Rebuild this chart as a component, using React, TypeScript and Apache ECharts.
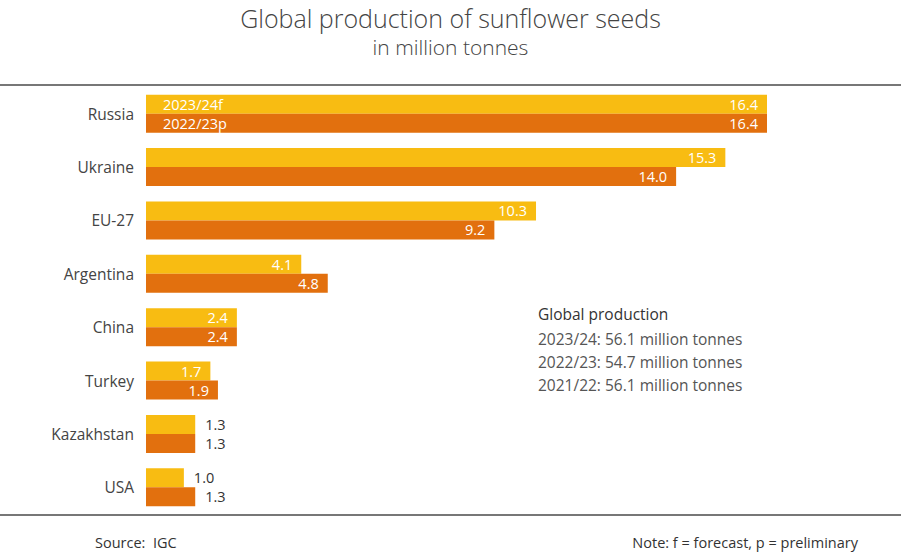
import React, { useEffect, useRef } from "react";
import * as echarts from "echarts";

const categories = ["Russia", "Ukraine", "EU-27", "Argentina", "China", "Turkey", "Kazakhstan", "USA"];
const seriesNames = ["2023/24f", "2022/23p"];
const values2324 = [16.4, 15.3, 10.3, 4.1, 2.4, 1.7, 1.3, 1.0];
const values2223 = [16.4, 14.0, 9.2, 4.8, 2.4, 1.9, 1.3, 1.3];
const globalLines = [
  "2023/24: 56.1 million tonnes",
  "2022/23: 54.7 million tonnes",
  "2021/22: 56.1 million tonnes",
];
const colors = ["#F8BC12", "#E2700E"];
const insideThreshold = 1.5;

const FONT = "'Open Sans', 'Noto Sans', sans-serif";

function makeData(vals: number[]) {
  return vals.map((v) => ({
    value: v,
    label:
      v >= insideThreshold
        ? { position: "insideRight", color: "#ffffff", distance: 9 }
        : { position: "right", color: "#333333", distance: 10 },
  }));
}

export default function App() {
  const ref = useRef<HTMLDivElement>(null);
  useEffect(() => {
    if (!ref.current) return;
    const chart = echarts.init(ref.current, undefined, { renderer: "svg" });
    const gridLeft = 146;
    const option: any = {
      animation: false,
      backgroundColor: "#ffffff",
      textStyle: { fontFamily: FONT },
      grid: { left: gridLeft, top: 87, height: 427, width: 621 },
      xAxis: { type: "value", min: 0, max: 16.4, show: false },
      yAxis: {
        type: "category",
        data: categories,
        inverse: true,
        axisLine: { show: false },
        axisTick: { show: false },
        axisLabel: { color: "#444", fontSize: 15.5, margin: 12, fontFamily: FONT },
      },
      series: [values2324, values2223].map((vals, i) => ({
        type: "bar",
        name: seriesNames[i],
        data: makeData(vals),
        barWidth: 19,
        barGap: "0%",
        itemStyle: { color: colors[i] },
        label: {
          show: true,
          fontSize: 14.5,
          lineHeight: 15,
          fontFamily: FONT,
          formatter: (p: any) => Number(p.value).toFixed(1),
        },
      })),
      graphic: [
        {
          type: "text",
          left: "center",
          top: 5,
          style: { text: "Global production of sunflower seeds", font: `300 25px ${FONT}`, fill: "#444" },
        },
        {
          type: "text",
          left: "center",
          top: 36,
          style: { text: "in million tonnes", font: `300 21px ${FONT}`, fill: "#444" },
        },
        { type: "line", shape: { x1: 0, y1: 85, x2: 901, y2: 85 }, style: { stroke: "#777", lineWidth: 2 } },
        { type: "line", shape: { x1: 0, y1: 515, x2: 901, y2: 515 }, style: { stroke: "#777", lineWidth: 2 } },
        {
          type: "text",
          x: 538,
          y: 306,
          style: { text: "Global production", font: `15.5px ${FONT}`, fill: "#333" },
        },
        ...globalLines.map((t, i) => ({
          type: "text",
          x: 538,
          y: 331 + i * 23,
          style: { text: t, font: `15.5px ${FONT}`, fill: "#555" },
        })),
        {
          type: "text",
          x: 95,
          y: 535,
          style: { text: "Source:  IGC", font: `14.5px ${FONT}`, fill: "#333" },
        },
        {
          type: "text",
          right: 43,
          y: 535,
          style: { text: "Note: f = forecast, p = preliminary", font: `14.5px ${FONT}`, fill: "#333" },
        },
      ],
    };
    chart.setOption(option);
    const yC = chart.convertToPixel({ yAxisIndex: 0 }, categories[0]) as number;
    const x0 = chart.convertToPixel({ xAxisIndex: 0 }, 0) as number;
    chart.setOption({
      graphic: [
        ...option.graphic,
        ...seriesNames.map((n, i) => ({
          type: "text",
          z: 100,
          x: x0 + 17,
          y: yC + (i === 0 ? -9.5 : 9.5),
          style: { text: n, font: `14.5px ${FONT}`, lineHeight: 15, fill: "#fff", verticalAlign: "middle" },
        })),
      ],
    });
    return () => chart.dispose();
  }, []);
  return <div ref={ref} style={{ position: "fixed", left: 0, top: 0, width: 901, height: 557 }} />;
}
